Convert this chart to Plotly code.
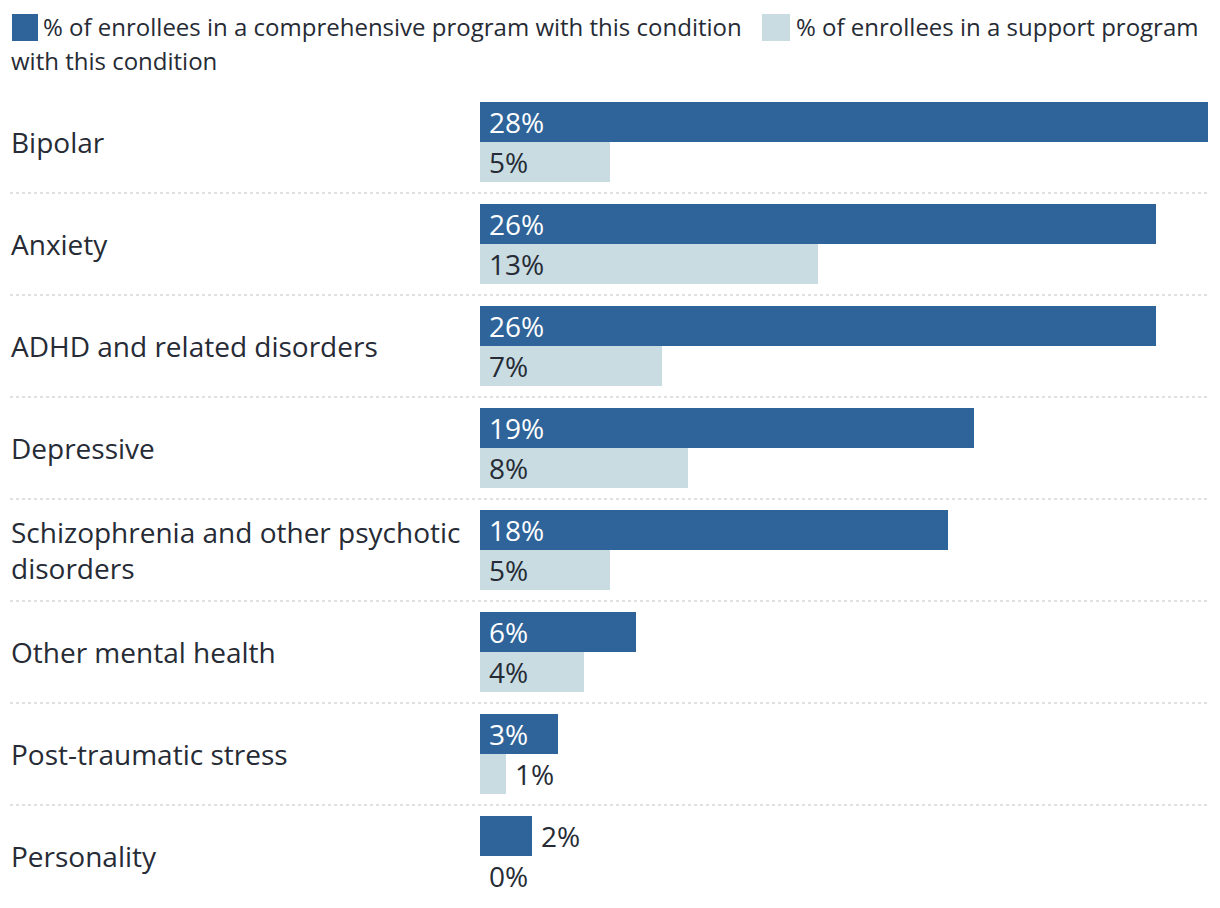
import plotly.graph_objects as go

categories = ["Bipolar", "Anxiety", "ADHD and related disorders", "Depressive",
              "Schizophrenia and other psychotic<br>disorders", "Other mental health",
              "Post-traumatic stress", "Personality"]
comprehensive = [28, 26, 26, 19, 18, 6, 3, 2]
support = [5, 13, 7, 8, 5, 4, 1, 0]
series_names = ["% of enrollees in a comprehensive program with this condition",
                "% of enrollees in a support program with this condition"]

DARK = "#2e6499"
LIGHT = "#c8dce2"
TEXT = "#262b35"
FONT = "Open Sans"

W, H = 1220, 908
L, R, T, B = 480, 12, 91, 1
PW = W - L - R
PH = H - T - B

def px(x):
    return (x - L) / PW

def py(y):
    return (H - B - y) / PH

idx = list(range(len(categories)))

fig = go.Figure()
fig.add_trace(go.Bar(orientation="h", y=idx, x=comprehensive, marker_color=DARK,
                     marker_line_width=0, name=series_names[0], hoverinfo="x"))
fig.add_trace(go.Bar(orientation="h", y=idx, x=support, marker_color=LIGHT,
                     marker_line_width=0, name=series_names[1], hoverinfo="x"))

annotations = []
# category labels
for i, c in enumerate(categories):
    annotations.append(dict(x=px(9), xref="paper", y=i, yref="y", text=c,
                            xanchor="left", yanchor="middle", align="left",
                            showarrow=False,
                            font=dict(family=FONT, size=28, color=TEXT)))
# bar value labels
for vals, shift, col in ((comprehensive, 20, "white"), (support, -20, TEXT)):
    for i, v in enumerate(vals):
        inside = v >= 3
        annotations.append(dict(x=0 if inside else v, xref="x", y=i, yref="y",
                                yshift=shift, xshift=7, text=f"{v}%",
                                xanchor="left", yanchor="middle", showarrow=False,
                                font=dict(family=FONT, size=28,
                                          color=col if inside else TEXT)))
# legend
annotations.append(dict(x=px(41), xref="paper", y=py(26), yref="paper",
                        text=series_names[0], xanchor="left", yanchor="middle",
                        showarrow=False, font=dict(family=FONT, size=24, color=TEXT)))
annotations.append(dict(x=px(794), xref="paper", y=py(26), yref="paper",
                        text="% of enrollees in a support program", xanchor="left",
                        yanchor="middle", showarrow=False,
                        font=dict(family=FONT, size=24, color=TEXT)))
annotations.append(dict(x=px(9), xref="paper", y=py(61), yref="paper",
                        text="with this condition", xanchor="left", yanchor="middle",
                        showarrow=False, font=dict(family=FONT, size=24, color=TEXT)))

shapes = [
    dict(type="rect", xref="paper", yref="paper", x0=px(12), x1=px(38),
         y0=py(14), y1=py(41), fillcolor=DARK, line_width=0),
    dict(type="rect", xref="paper", yref="paper", x0=px(762), x1=px(790),
         y0=py(14), y1=py(41), fillcolor=LIGHT, line_width=0),
]
for i in range(len(categories) - 1):
    shapes.append(dict(type="line", xref="paper", yref="y", x0=px(10), x1=px(1210),
                       y0=i + 0.5, y1=i + 0.5,
                       line=dict(color="#d6d6d6", width=1.5, dash="dot")))

fig.update_layout(
    width=W, height=H,
    margin=dict(l=L, r=R, t=T, b=B, pad=0),
    paper_bgcolor="white", plot_bgcolor="white",
    barmode="group", bargap=0.216, bargroupgap=0,
    showlegend=False,
    xaxis=dict(range=[0, 28], visible=False, fixedrange=True),
    yaxis=dict(range=[len(categories) - 0.5, -0.5], visible=False, fixedrange=True),
    annotations=annotations, shapes=shapes,
    font=dict(family=FONT, color=TEXT),
)

fig.write_html("out.html")
